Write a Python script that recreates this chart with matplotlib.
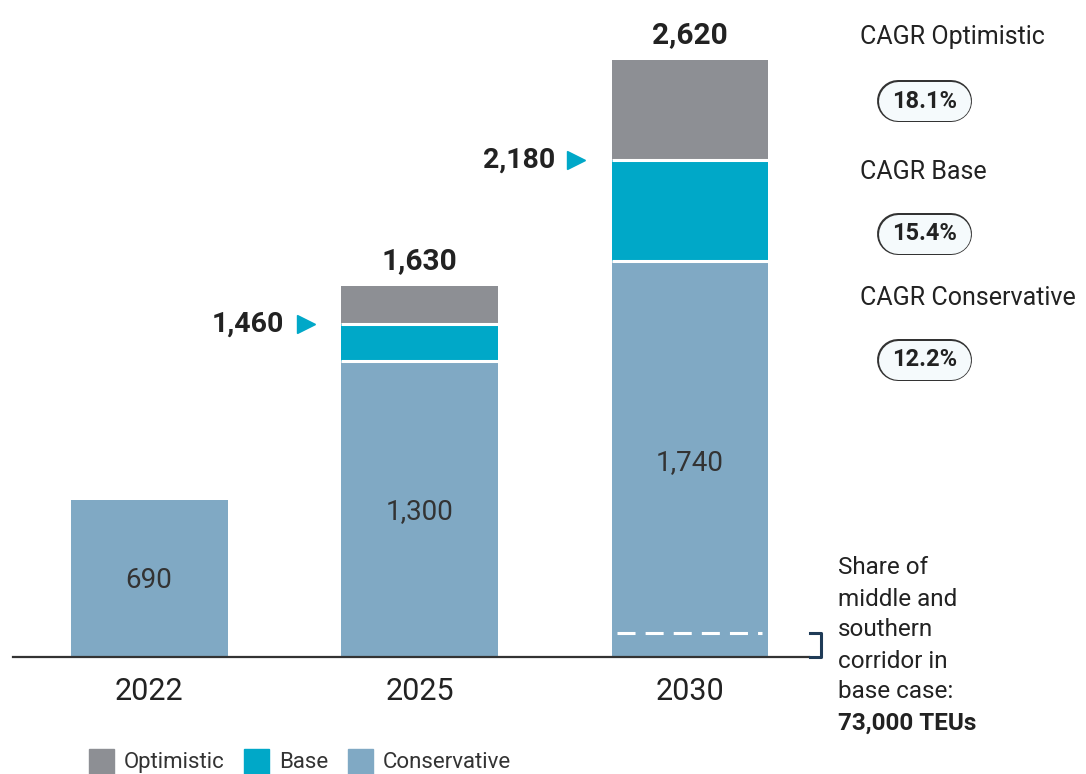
import matplotlib.pyplot as plt
from matplotlib.lines import Line2D
from matplotlib.transforms import IdentityTransform

plt.rcParams['font.family'] = ['Roboto', 'DejaVu Sans']

# data (thousand TEU)
years = ['2022', '2025', '2030']
conservative = [690, 1300, 1740]
base_total = [None, 1460, 2180]
optimistic_total = [None, 1630, 2620]
share_level = 105  # dashed marker in 2030 bar
cagr_labels = ['CAGR Optimistic', 'CAGR Base', 'CAGR Conservative']
cagr_values = ['18.1%', '15.4%', '12.2%']

c_opt = '#8d8f94'
c_base = '#00a8c8'
c_cons = '#80a9c4'
c_text = '#222222'

W, H = 1086, 774
fig = plt.figure(figsize=(W / 100, H / 100), dpi=100)
ax = fig.add_axes([0.012, 0.151, 0.745 - 0.012, 0.849])

x = list(range(len(years)))
w = 0.58

base_part = [0 if b is None else b - c for b, c in zip(base_total, conservative)]
opt_part = [0 if o is None else o - b for o, b in zip(optimistic_total, base_total)]

ax.bar(x, conservative, width=w, color=c_cons, linewidth=0)
for i in x:
    if base_total[i] is not None:
        ax.bar(i, base_part[i], bottom=conservative[i], width=w, color=c_base, linewidth=0)
        ax.bar(i, opt_part[i], bottom=base_total[i], width=w, color=c_opt, linewidth=0)
        # white separators
        for lvl in (conservative[i], base_total[i]):
            ax.plot([i - w / 2, i + w / 2], [lvl, lvl], color='white', lw=2.2,
                    solid_capstyle='butt', zorder=3)

ax.set_xlim(-0.503, 2.44)
ax.set_ylim(0, 2884)
ax.axis('off')
ax.plot([-0.503, 2.44], [0, 0], color='#333333', lw=1.6, clip_on=False, zorder=4)

# inner labels and years
for i in x:
    ax.text(i, conservative[i] * 0.49, f'{conservative[i]:,}',
            ha='center', va='center', fontsize=20, color='#333333')
    ax.text(i, -150, years[i], ha='center', va='center', fontsize=22, color=c_text)

# totals and base markers
for i in x:
    if optimistic_total[i] is not None:
        ax.text(i, optimistic_total[i] + 110, f'{optimistic_total[i]:,}', ha='center',
                va='center', fontsize=21.5, fontweight='bold', color=c_text)
        left = i - w / 2
        ax.plot(left - 0.13, base_total[i], marker='>', color=c_base, markersize=13,
                linestyle='none', clip_on=False)
        ax.text(left - 0.21, base_total[i], f'{base_total[i]:,}', ha='right',
                va='center', fontsize=20.5, fontweight='bold', color=c_text)

# dashed share line in 2030 bar
ax.plot([2 - w / 2 + 0.02, 2 + w / 2 - 0.025], [share_level, share_level], color='white',
        lw=2.2, linestyle=(0, (5.9, 3.3)), zorder=3)

# bracket
bx = 2.485
ax.plot([bx - 0.04, bx, bx, bx - 0.04], [share_level, share_level, 0, 0], color='#1f3b57',
        lw=2.2, clip_on=False, zorder=5)

# CAGR panel, pills drawn as round-capped thick lines in pixel space
px_to_pt = 72 / 100
label_y = [37, 172, 298]
pill_y = [101, 234, 360]
for lbl, val, ly, py in zip(cagr_labels, cagr_values, label_y, pill_y):
    fig.text(860 / W, 1 - ly / H, lbl, ha='left', va='center', fontsize=18, color=c_text)
    yy = H - py
    outer = Line2D([898, 951], [yy, yy], transform=IdentityTransform(), color='#333333',
                   lw=42 * px_to_pt, solid_capstyle='round')
    inner = Line2D([898, 951], [yy, yy], transform=IdentityTransform(), color='#f5fafc',
                   lw=39 * px_to_pt, solid_capstyle='round')
    fig.lines.extend([outer, inner])
    fig.text(924.5 / W, 1 - py / H, val, ha='center', va='center', fontsize=17,
             fontweight='bold', color=c_text, zorder=5)

# share annotation
share_lines = ['Share of', 'middle and', 'southern', 'corridor in', 'base case:']
for k, s in enumerate(share_lines):
    fig.text(838 / W, 1 - (568 + k * 31) / H, s, ha='left', va='center', fontsize=17.5,
             color=c_text)
fig.text(838 / W, 1 - (568 + 5 * 31) / H, '73,000 TEUs', ha='left', va='center',
         fontsize=17.5, fontweight='bold', color=c_text)

# legend
handles = [Line2D([], [], marker='s', color=c, linestyle='none', markersize=18)
           for c in (c_opt, c_base, c_cons)]
fig.legend(handles, ['Optimistic', 'Base', 'Conservative'], loc='lower left',
           bbox_to_anchor=(0.062, -0.025), ncol=3, frameon=False, fontsize=16,
           handletextpad=0.45, columnspacing=0.8, handlelength=1.2,
           labelcolor='#333333')

fig.savefig('out.png', dpi=100, facecolor='white')
